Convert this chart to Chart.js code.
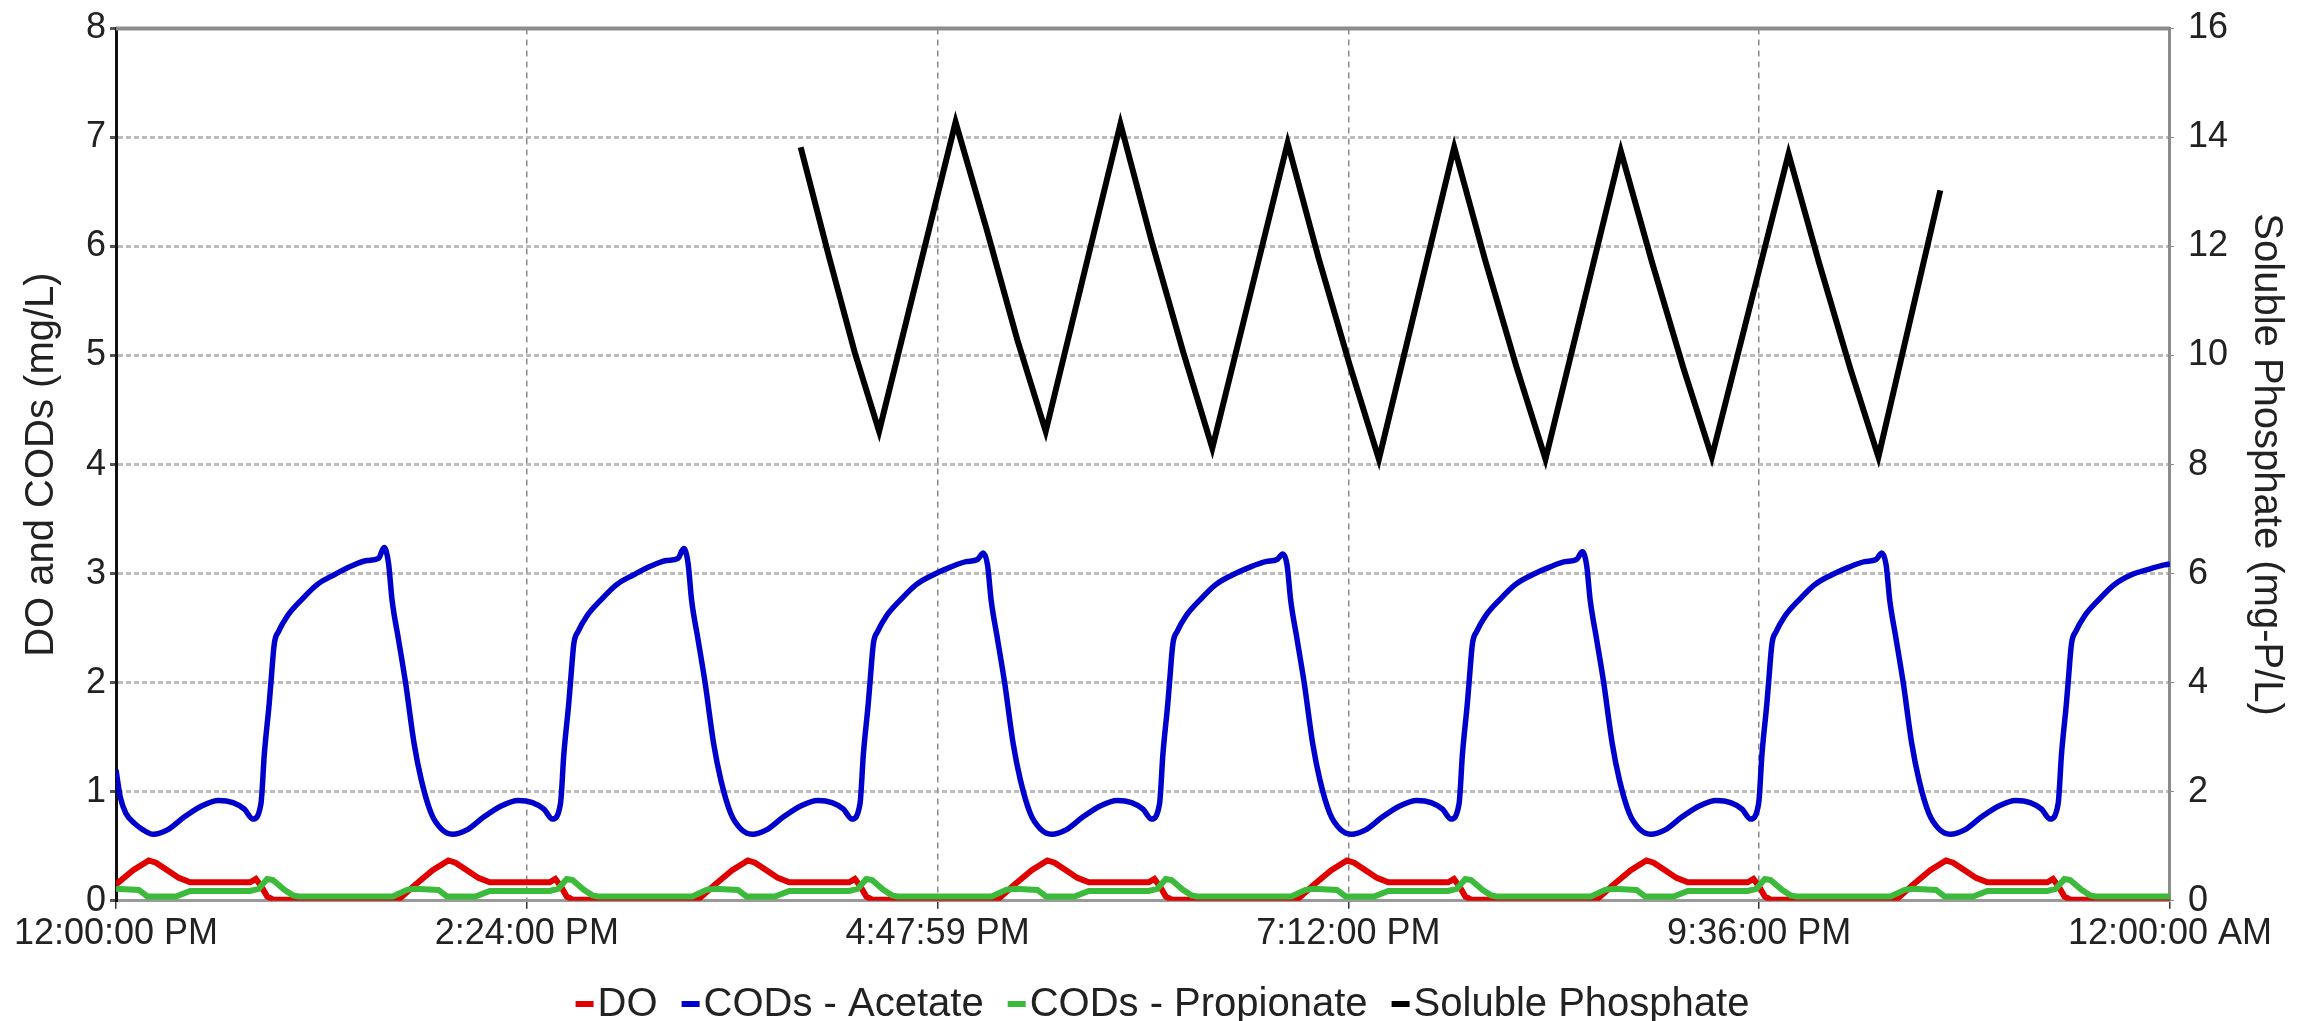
<!DOCTYPE html>
<html>
<head>
	<meta charset="UTF-8">
	<script src="https://cdn.jsdelivr.net/npm/chart.js@4.4.1/dist/chart.umd.min.js"></script>
	<style>
		html, body { margin: 0; padding: 0; background: #fff; }
		#wrap { width: 2303px; height: 1021px; }
	</style>
</head>
<body>
	<div id="wrap"><canvas id="simChart" width="2303" height="1021"></canvas></div>
	<script>
		// x in minutes after 12:00:00 PM
		var timeLabels = ['12:00:00 PM', '2:24:00 PM', '4:47:59 PM', '7:12:00 PM', '9:36:00 PM', '12:00:00 AM'];

		var doTimes = [
			0, 6, 11.5, 14, 18, 22, 26, 47, 49, 51, 53, 55, 99,
			105, 111, 116.5, 119, 123, 127, 131, 152, 154, 156, 158, 160, 204,
			210, 216, 221.5, 224, 228, 232, 236, 257, 259, 261, 263, 265, 309,
			315, 321, 326.5, 329, 333, 337, 341, 362, 364, 366, 368, 370, 414,
			420, 426, 431.5, 434, 438, 442, 446, 467, 469, 471, 473, 475, 519,
			525, 531, 536.5, 539, 543, 547, 551, 572, 574, 576, 578, 580, 624,
			630, 636, 641.5, 644, 648, 652, 656, 677, 679, 681, 683, 685, 720
		];
		var doValues = [
			0.15, 0.28, 0.37, 0.35, 0.28, 0.21, 0.17, 0.17, 0.20, 0.13, 0.04, 0.01, 0.01,
			0.15, 0.28, 0.37, 0.35, 0.28, 0.21, 0.17, 0.17, 0.20, 0.13, 0.04, 0.01, 0.01,
			0.15, 0.28, 0.37, 0.35, 0.28, 0.21, 0.17, 0.17, 0.20, 0.13, 0.04, 0.01, 0.01,
			0.15, 0.28, 0.37, 0.35, 0.28, 0.21, 0.17, 0.17, 0.20, 0.13, 0.04, 0.01, 0.01,
			0.15, 0.28, 0.37, 0.35, 0.28, 0.21, 0.17, 0.17, 0.20, 0.13, 0.04, 0.01, 0.01,
			0.15, 0.28, 0.37, 0.35, 0.28, 0.21, 0.17, 0.17, 0.20, 0.13, 0.04, 0.01, 0.01,
			0.15, 0.28, 0.37, 0.35, 0.28, 0.21, 0.17, 0.17, 0.20, 0.13, 0.04, 0.01, 0.01
		];

		var acetateTimes = [
			0, 1.5, 3.5, 6.5, 9.5,
			13, 18, 24, 30, 36, 41, 45, 48, 50.8, 52, 53.7, 54.3, 55.5, 57, 60, 65, 70.5, 76.5, 82.5, 88, 92, 94, 95.5, 96.8, 99, 101.5, 104.5, 107, 110.5, 114,
			118, 123, 129, 135, 141, 146, 150, 153, 155.8, 157, 158.7, 159.3, 160.5, 162, 165, 170, 175.5, 181.5, 187.5, 193, 197, 199, 200.5, 201.8, 204, 206.5, 209.5, 212, 215.5, 219,
			223, 228, 234, 240, 246, 251, 255, 258, 260.8, 262, 263.7, 264.3, 265.5, 267, 270, 275, 280.5, 286.5, 292.5, 298, 302, 304, 305.5, 306.8, 309, 311.5, 314.5, 317, 320.5, 324,
			328, 333, 339, 345, 351, 356, 360, 363, 365.8, 367, 368.7, 369.3, 370.5, 372, 375, 380, 385.5, 391.5, 397.5, 403, 407, 409, 410.5, 411.8, 414, 416.5, 419.5, 422, 425.5, 429,
			433, 438, 444, 450, 456, 461, 465, 468, 470.8, 472, 473.7, 474.3, 475.5, 477, 480, 485, 490.5, 496.5, 502.5, 508, 512, 514, 515.5, 516.8, 519, 521.5, 524.5, 527, 530.5, 534,
			538, 543, 549, 555, 561, 566, 570, 573, 575.8, 577, 578.7, 579.3, 580.5, 582, 585, 590, 595.5, 601.5, 607.5, 613, 617, 619, 620.5, 621.8, 624, 626.5, 629.5, 632, 635.5, 639,
			643, 648, 654, 660, 666, 671, 675, 678, 680.8, 682, 683.7, 684.3, 685.5, 687, 690, 695, 700.5, 706.5, 712.5, 718, 720
		];
		var acetateValues = [
			1.20, 0.95, 0.80, 0.71, 0.65,
			0.61, 0.65, 0.77, 0.87, 0.92, 0.90, 0.84, 0.75, 0.89, 1.35, 1.81, 2.00, 2.36, 2.47, 2.61, 2.76, 2.90, 2.99, 3.07, 3.12, 3.14, 3.24, 3.10, 2.75, 2.40, 2.00, 1.44, 1.11, 0.80, 0.66,
			0.61, 0.65, 0.77, 0.87, 0.92, 0.90, 0.84, 0.75, 0.89, 1.35, 1.81, 2.00, 2.36, 2.47, 2.61, 2.76, 2.90, 2.99, 3.07, 3.12, 3.14, 3.23, 3.10, 2.75, 2.40, 2.00, 1.44, 1.11, 0.80, 0.66,
			0.61, 0.65, 0.77, 0.87, 0.92, 0.90, 0.84, 0.75, 0.89, 1.35, 1.81, 2.00, 2.36, 2.47, 2.61, 2.76, 2.90, 2.99, 3.06, 3.11, 3.13, 3.19, 3.08, 2.75, 2.40, 2.00, 1.44, 1.11, 0.80, 0.66,
			0.61, 0.65, 0.77, 0.87, 0.92, 0.90, 0.84, 0.75, 0.89, 1.35, 1.81, 2.00, 2.36, 2.47, 2.61, 2.76, 2.90, 2.99, 3.06, 3.11, 3.13, 3.18, 3.08, 2.75, 2.40, 2.00, 1.44, 1.11, 0.80, 0.66,
			0.61, 0.65, 0.77, 0.87, 0.92, 0.90, 0.84, 0.75, 0.89, 1.35, 1.81, 2.00, 2.36, 2.47, 2.61, 2.76, 2.90, 2.99, 3.06, 3.11, 3.13, 3.20, 3.08, 2.75, 2.40, 2.00, 1.44, 1.11, 0.80, 0.66,
			0.61, 0.65, 0.77, 0.87, 0.92, 0.90, 0.84, 0.75, 0.89, 1.35, 1.81, 2.00, 2.36, 2.47, 2.61, 2.76, 2.90, 2.99, 3.06, 3.11, 3.13, 3.19, 3.08, 2.75, 2.40, 2.00, 1.44, 1.11, 0.80, 0.66,
			0.61, 0.65, 0.77, 0.87, 0.92, 0.90, 0.84, 0.75, 0.89, 1.35, 1.81, 2.00, 2.36, 2.47, 2.61, 2.76, 2.90, 2.99, 3.04, 3.08, 3.09
		];

		var propTimes = [
			0, 8, 11, 21, 26, 47, 50, 53, 55, 59, 62, 64, 97, 102,
			105, 113, 116, 126, 131, 152, 155, 158, 160, 164, 167, 169, 202, 207,
			210, 218, 221, 231, 236, 257, 260, 263, 265, 269, 272, 274, 307, 312,
			315, 323, 326, 336, 341, 362, 365, 368, 370, 374, 377, 379, 412, 417,
			420, 428, 431, 441, 446, 467, 470, 473, 475, 479, 482, 484, 517, 522,
			525, 533, 536, 546, 551, 572, 575, 578, 580, 584, 587, 589, 622, 627,
			630, 638, 641, 651, 656, 677, 680, 683, 685, 689, 692, 694, 720
		];
		var propValues = [
			0.11, 0.10, 0.04, 0.04, 0.09, 0.09, 0.11, 0.20, 0.19, 0.10, 0.05, 0.04, 0.04, 0.10,
			0.11, 0.10, 0.04, 0.04, 0.09, 0.09, 0.11, 0.20, 0.19, 0.10, 0.05, 0.04, 0.04, 0.10,
			0.11, 0.10, 0.04, 0.04, 0.09, 0.09, 0.11, 0.20, 0.19, 0.10, 0.05, 0.04, 0.04, 0.10,
			0.11, 0.10, 0.04, 0.04, 0.09, 0.09, 0.11, 0.20, 0.19, 0.10, 0.05, 0.04, 0.04, 0.10,
			0.11, 0.10, 0.04, 0.04, 0.09, 0.09, 0.11, 0.20, 0.19, 0.10, 0.05, 0.04, 0.04, 0.10,
			0.11, 0.10, 0.04, 0.04, 0.09, 0.09, 0.11, 0.20, 0.19, 0.10, 0.05, 0.04, 0.04, 0.10,
			0.11, 0.10, 0.04, 0.04, 0.09, 0.09, 0.11, 0.20, 0.19, 0.10, 0.05, 0.04, 0.04
		];

		var phosTimes = [
			240, 250, 259, 267.5, 294.3, 305, 316, 325.9, 352.1, 363, 374, 384.3,
			410.7, 421.5, 432.5, 442.7, 469.1, 480, 491, 501.1, 527.5, 538.5, 549.5, 559.4,
			586.3, 597, 608, 617.8, 639.5
		];
		var phosValues = [
			13.82, 11.80, 10.05, 8.61, 14.28, 12.35, 10.28, 8.61, 14.25, 12.10, 10.08, 8.30,
			13.90, 11.80, 9.82, 8.10, 13.82, 11.74, 9.78, 8.10, 13.75, 11.70, 9.76, 8.14,
			13.70, 11.70, 9.75, 8.14, 13.03
		];

		function toPoints(xs, ys) {
			return xs.map(function (x, i) { return { x: x, y: ys[i] }; });
		}

		var fontName = "'Liberation Sans', Arial, sans-serif";
		var textColor = '#222';

		// gray frame on the top edge of the plot
		var frameTop = {
			id: 'frameTop',
			afterDraw: function (chart) {
				var a = chart.chartArea;
				var c = chart.ctx;
				c.save();
				c.strokeStyle = '#8c8c8c';
				c.lineWidth = 4;
				c.beginPath();
				c.moveTo(a.left, a.top);
				c.lineTo(a.right, a.top);
				c.stroke();
				c.restore();
			}
		};

		// legend row under the axis: short dash, then the name right next to it
		var legendRow = {
			id: 'legendRow',
			afterDraw: function (chart) {
				var c = chart.ctx;
				var sets = chart.data.datasets;
				var markW = 18, gap = 4, space = 24;
				c.save();
				c.font = '40px ' + fontName;
				c.textBaseline = 'middle';
				var widths = sets.map(function (ds) { return markW + gap + c.measureText(ds.label).width; });
				var total = widths.reduce(function (a, b) { return a + b; }, 0) + space * (sets.length - 1);
				var x = (chart.width - total) / 2 + 11;
				var y = chart.height - 17;
				sets.forEach(function (ds, i) {
					c.fillStyle = ds.borderColor;
					c.fillRect(x, y - 3, markW, 6);
					c.fillStyle = textColor;
					c.fillText(ds.label, x + markW + gap, y + 1);
					x += widths[i] + space;
				});
				c.restore();
			}
		};

		var ctx = document.getElementById('simChart').getContext('2d');
		var myChart = new Chart(ctx, {
			type: 'line',
			data: {
				datasets: [{
					label: 'DO',
					data: toPoints(doTimes, doValues),
					borderColor: '#e00000',
					backgroundColor: '#e00000',
					borderWidth: 6,
					pointRadius: 0,
					tension: 0,
					yAxisID: 'y',
					order: 1
				}, {
					label: 'CODs - Acetate',
					data: toPoints(acetateTimes, acetateValues),
					borderColor: '#0000cc',
					backgroundColor: '#0000cc',
					borderWidth: 5.5,
					pointRadius: 0,
					cubicInterpolationMode: 'monotone',
					yAxisID: 'y',
					order: 2
				}, {
					label: 'CODs - Propionate',
					data: toPoints(propTimes, propValues),
					borderColor: '#3cba3c',
					backgroundColor: '#3cba3c',
					borderWidth: 6,
					pointRadius: 0,
					tension: 0,
					yAxisID: 'y',
					order: 0
				}, {
					label: 'Soluble Phosphate',
					data: toPoints(phosTimes, phosValues),
					borderColor: '#000000',
					backgroundColor: '#000000',
					borderWidth: 6,
					pointRadius: 0,
					tension: 0,
					yAxisID: 'y1',
					order: 3
				}]
			},
			options: {
				responsive: false,
				animation: false,
				layout: {
					padding: { left: 18, right: 1, top: 0, bottom: 61 }
				},
				plugins: {
					legend: { display: false },
					tooltip: { enabled: false }
				},
				scales: {
					x: {
						type: 'linear',
						min: 0,
						max: 720,
						ticks: {
							stepSize: 144,
							autoSkip: false,
							maxRotation: 0,
							padding: 4,
							color: textColor,
							font: { family: fontName, size: 36 },
							callback: function (v) { return timeLabels[Math.round(v / 144)]; }
						},
						grid: {
							color: '#8a8a8a',
							lineWidth: 1.5,
							tickLength: 8,
							tickColor: '#333'
						},
						border: { color: '#9a9a9a', width: 3, dash: [6, 5] }
					},
					y: {
						position: 'left',
						min: 0,
						max: 8,
						ticks: {
							stepSize: 1,
							padding: 4,
							color: textColor,
							font: { family: fontName, size: 36, lineHeight: 0.8 }
						},
						title: {
							display: true,
							text: 'DO and CODs (mg/L)',
							color: textColor,
							font: { family: fontName, size: 40 },
							padding: { top: 0, bottom: 16 }
						},
						grid: {
							color: 'rgba(160,160,160,0.7)',
							lineWidth: 3,
							tickLength: 6,
							tickColor: '#555'
						},
						border: { color: '#111', width: 3, dash: [5, 3] }
					},
					y1: {
						position: 'right',
						min: 0,
						max: 16,
						ticks: {
							stepSize: 2,
							padding: 14,
							color: textColor,
							font: { family: fontName, size: 36, lineHeight: 0.8 }
						},
						title: {
							display: true,
							text: 'Soluble Phosphate (mg-P/L)',
							color: textColor,
							font: { family: fontName, size: 40 },
							padding: { top: 12, bottom: 0 }
						},
						grid: {
							drawOnChartArea: false,
							tickLength: 4,
							tickColor: '#888'
						},
						border: { color: '#8c8c8c', width: 3 }
					}
				}
			},
			plugins: [frameTop, legendRow]
		});
	</script>
</body>
</html>
